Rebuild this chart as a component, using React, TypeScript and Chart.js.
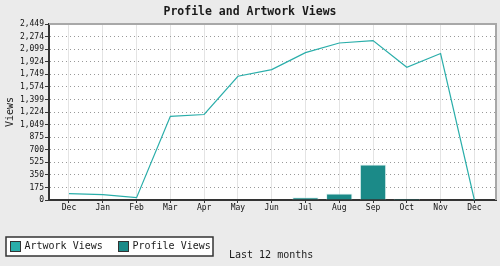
import React, { useEffect, useRef } from "react";
import { Chart, registerables } from "chart.js";

Chart.register(...registerables);

const months = ["Dec", "Jan", "Feb", "Mar", "Apr", "May", "Jun", "Jul", "Aug", "Sep", "Oct", "Nov", "Dec"];
const artworkViews = [90, 75, 33, 1165, 1190, 1722, 1815, 2050, 2185, 2219, 1847, 2038, 0];
const profileViews = [0, 0, 0, 0, 0, 0, 0, 38, 90, 493, 18, 0, 0];
const yTickLabels = ["0", "175", "350", "525", "700", "875", "1,049", "1,224", "1,399", "1,574", "1,749", "1,924", "2,099", "2,274", "2,449"];
const yMax = 2449;

const chartTitle = "Profile and Artwork Views";
const yTitle = "Views";
const xTitle = "Last 12 months";
const seriesNames = ["Artwork Views", "Profile Views"];

const FONT = "'DejaVu Sans Mono', monospace";
const LINE_COLOR = "#2aaeaa";
const BAR_COLOR = "#1b8a88";

export default function App() {
  const ref = useRef<HTMLCanvasElement | null>(null);

  useEffect(() => {
    const canvas = ref.current;
    if (!canvas) return;

    const decor = {
      id: "decor",
      beforeDraw(chart: any) {
        const { ctx, chartArea: a } = chart;
        ctx.save();
        ctx.fillStyle = "#ffffff";
        ctx.fillRect(a.left, a.top, a.right - a.left, a.bottom - a.top);
        ctx.restore();
      },
      afterDraw(chart: any) {
        const { ctx, chartArea: a } = chart;
        ctx.save();
        ctx.strokeStyle = "#a8a8a8";
        ctx.lineWidth = 2;
        ctx.beginPath();
        ctx.moveTo(a.left, a.top);
        ctx.lineTo(a.right, a.top);
        ctx.lineTo(a.right, a.bottom);
        ctx.stroke();

        ctx.fillStyle = "#1a1a1a";
        ctx.font = `bold 11.5px ${FONT}`;
        ctx.textAlign = "center";
        ctx.textBaseline = "middle";
        ctx.fillText(chartTitle, 250, 12.5);

        ctx.save();
        ctx.translate(10, 112);
        ctx.rotate(-Math.PI / 2);
        ctx.font = `10px ${FONT}`;
        ctx.fillText(yTitle, 0, 0);
        ctx.restore();

        ctx.fillStyle = "#ffffff";
        ctx.fillRect(6, 237, 207, 19);
        ctx.strokeStyle = "#333";
        ctx.lineWidth = 1.5;
        ctx.strokeRect(6, 237, 207, 19);

        const items = [
          { x: 10.5, color: LINE_COLOR, label: seriesNames[0] },
          { x: 118.5, color: BAR_COLOR, label: seriesNames[1] },
        ];
        ctx.font = `10px ${FONT}`;
        ctx.textAlign = "left";
        ctx.textBaseline = "middle";
        for (const it of items) {
          ctx.fillStyle = it.color;
          ctx.fillRect(it.x, 241.5, 10, 10);
          ctx.strokeStyle = "#333";
          ctx.lineWidth = 1;
          ctx.strokeRect(it.x, 241.5, 10, 10);
          ctx.fillStyle = "#1a1a1a";
          ctx.fillText(it.label, it.x + 14, 246.5);
        }
        ctx.fillText(xTitle, 229, 255);
        ctx.restore();
      },
    };

    const chart = new Chart(canvas, {
      type: "bar",
      data: {
        datasets: [
          {
            type: "line",
            label: seriesNames[0],
            data: artworkViews.map((v, i) => ({ x: i, y: v })),
            borderColor: LINE_COLOR,
            backgroundColor: LINE_COLOR,
            borderWidth: 1.2,
            pointRadius: 0,
            tension: 0,
            order: 0,
          } as any,
          {
            type: "bar",
            label: seriesNames[1],
            data: profileViews.map((v, i) => ({ x: i, y: v })),
            backgroundColor: BAR_COLOR,
            borderColor: "rgba(215,238,238,0.8)",
            borderWidth: 1,
            barPercentage: 0.78,
            categoryPercentage: 1,
            order: 1,
          } as any,
        ],
      },
      options: {
        responsive: false,
        animation: false,
        layout: { padding: { top: 24, right: 4, bottom: 0, left: 0 } },
        plugins: {
          legend: { display: false },
          title: { display: false },
          tooltip: { enabled: false },
        },
        scales: {
          x: {
            type: "linear",
            offset: false,
            min: -0.592,
            max: 12.64,
            afterBuildTicks(scale: any) {
              scale.ticks = months.map((_, i) => ({ value: i }));
            },
            afterFit(scale: any) {
              scale.height = 66;
            },
            ticks: {
              callback: (v: any) => months[Math.round(Number(v))] ?? "",
              font: { family: FONT, size: 8 },
              color: "#111",
              padding: 0,
              maxRotation: 0,
              autoSkip: false,
            },
            grid: {
              offset: false,
              color: "#e4e4e4",
              lineWidth: 1,
              tickLength: 3,
              tickColor: "#333",
            },
            border: { color: "#333", width: 2 },
          },
          y: {
            type: "linear",
            min: 0,
            max: yMax,
            afterBuildTicks(scale: any) {
              scale.ticks = yTickLabels.map((_, k) => ({ value: (yMax * k) / 14 }));
            },
            afterFit(scale: any) {
              scale.width = 49;
            },
            ticks: {
              callback: (_v: any, idx: number) => yTickLabels[idx],
              font: { family: FONT, size: 8 },
              color: "#111",
              padding: 1,
              autoSkip: false,
            },
            grid: {
              color: "#999",
              lineWidth: 1,
              tickLength: 4,
              tickColor: "#333",
              tickBorderDash: [],
            },
            border: { color: "#333", width: 2, dash: [1, 3] },
          },
        },
      },
      plugins: [decor],
    });

    return () => chart.destroy();
  }, []);

  return (
    <div style={{ position: "fixed", left: 0, top: 0, width: 500, height: 266, background: "#ebebeb" }}>
      <canvas ref={ref} width={500} height={266} style={{ display: "block", width: 500, height: 266 }} />
    </div>
  );
}
